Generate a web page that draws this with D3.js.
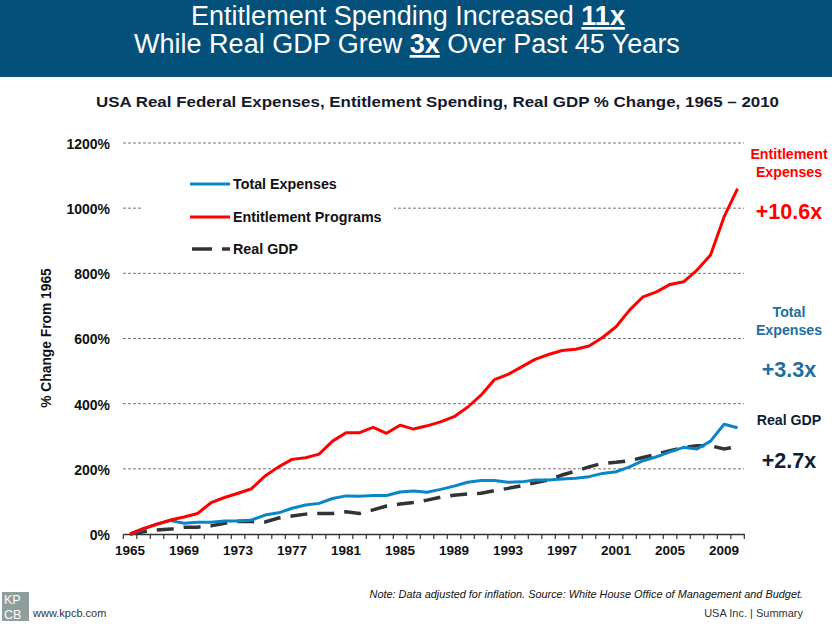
<!DOCTYPE html>
<html><head><meta charset="utf-8">
<script src="https://cdn.jsdelivr.net/npm/d3@7"></script>
<style>
html,body{margin:0;padding:0;background:#fff;}
svg{display:block;font-family:"Liberation Sans",Arial,sans-serif;}
</style></head>
<body>
<svg id="c" width="832" height="624"></svg>
<script>
const years = d3.range(1965, 2011);
const totalExpenses = [0,15,31,41,33,36,36,40,40,43,58,65,79,89,94,109,117,116,118,118,129,132,128,137,147,159,164,164,159,160,166,166,169,171,176,186,191,206,225,237,252,266,261,285,337,326];
const entitlementPrograms = [0,17,30,43,52,63,96,112,125,139,178,206,229,234,245,285,311,311,327,309,334,322,332,344,360,389,426,474,490,513,536,551,563,567,577,603,636,687,728,743,766,774,810,856,973,1060];
const realGDP = [0,7,12,15,21,21,25,33,39,38,37,49,55,61,63,63,68,63,74,86,92,97,104,113,119,123,125,133,140,148,157,166,181,193,206,217,220,225,235,245,256,265,271,271,261,268];
const yTicks = [0,200,400,600,800,1000,1200];
const xTickLabels = [1965,1969,1973,1977,1981,1985,1989,1993,1997,2001,2005,2009];
const seriesNames = ["Total Expenses","Entitlement Programs","Real GDP"];

const svg = d3.select("#c");

// header band
svg.append("rect").attr("x",0).attr("y",0).attr("width",832).attr("height",77).attr("fill","#03517A");
const tf = '"Liberation Sans Narrow","Arial Narrow","Liberation Sans",sans-serif';
const t1 = svg.append("text").attr("x",408).attr("y",25).attr("text-anchor","middle")
  .attr("fill","#fff").style("font-family",tf).style("font-size","27px");
t1.append("tspan").text("Entitlement Spending Increased ");
t1.append("tspan").text("11x").style("font-weight","bold").style("text-decoration","underline");
const t2 = svg.append("text").attr("x",407).attr("y",53).attr("text-anchor","middle")
  .attr("fill","#fff").style("font-family",tf).style("font-size","27px");
t2.append("tspan").text("While Real GDP Grew ");
t2.append("tspan").text("3x").style("font-weight","bold").style("text-decoration","underline");
t2.append("tspan").text(" Over Past 45 Years");

svg.append("text").attr("x",96).attr("y",107)
  .attr("textLength",683).attr("lengthAdjust","spacingAndGlyphs")
  .style("font-size","15.5px").style("font-weight","bold").attr("fill","#141A2C")
  .text("USA Real Federal Expenses, Entitlement Spending, Real GDP % Change, 1965 \u2013 2010");

// scales
const x = d3.scaleBand().domain(years).range([123.3,744.3]).padding(0);
const y = d3.scaleLinear().domain([0,1200]).range([534,143]);
const cx = d => x(d) + x.bandwidth()/2;

// gridlines
svg.append("g").selectAll("line").data(yTicks.filter(d=>d>0)).join("line")
  .attr("x1",123).attr("x2",744).attr("y1",d=>y(d)).attr("y2",d=>y(d))
  .attr("stroke","#777").attr("stroke-width",1).attr("stroke-dasharray","3,2");

// y axis labels
const yAxis = d3.axisLeft(y).tickValues(yTicks).tickSize(0).tickPadding(0).tickFormat(d=>d+"%");
const gy = svg.append("g").attr("transform","translate(110,1)").call(yAxis);
gy.select(".domain").remove();
gy.selectAll("text").style("font-size","14px").style("font-weight","bold").attr("fill","#111")
  .style("font-family",'"Liberation Sans",Arial,sans-serif');

svg.append("text").attr("transform","translate(51,338) rotate(-90)").attr("text-anchor","middle")
  .style("font-size","13.8px").style("font-weight","bold").attr("fill","#111").text("% Change From 1965");

// x axis
const xAxis = d3.axisBottom(x).tickValues(xTickLabels).tickSize(0).tickPadding(11);
const gx = svg.append("g").attr("transform","translate(0,534)").call(xAxis);
gx.select(".domain").attr("stroke","#333").attr("stroke-width",1.5);
gx.selectAll("text").style("font-size","13.5px").style("font-weight","bold").attr("fill","#111")
  .style("font-family",'"Liberation Sans",Arial,sans-serif');
const boundaries = years.map(d=>x(d)).concat([x(2010)+x.bandwidth()]);
svg.append("g").selectAll("line").data(boundaries).join("line")
  .attr("x1",d=>d).attr("x2",d=>d).attr("y1",534).attr("y2",539)
  .attr("stroke","#333").attr("stroke-width",1.2);

// lines
const line = d3.line().x((d,i)=>cx(years[i])).y(d=>y(d));
svg.append("path").datum(realGDP).attr("d",line).attr("fill","none")
  .attr("stroke","#333").attr("stroke-width",3.5).attr("stroke-dasharray","17,10");
svg.append("path").datum(totalExpenses).attr("d",line).attr("fill","none")
  .attr("stroke","#0A86C8").attr("stroke-width",3).attr("stroke-linejoin","round");
svg.append("path").datum(entitlementPrograms).attr("d",line).attr("fill","none")
  .attr("stroke","#FF0000").attr("stroke-width",3).attr("stroke-linejoin","round");

// legend
svg.append("rect").attr("x",142).attr("y",165).attr("width",252).attr("height",98).attr("fill","#fff");
const leg = [
  {name:seriesNames[0], color:"#0A86C8", dash:null, y:184},
  {name:seriesNames[1], color:"#FF0000", dash:null, y:217},
  {name:seriesNames[2], color:"#333", dash:"20,10", y:249}
];
const lg = svg.append("g").selectAll("g").data(leg).join("g");
lg.append("line").attr("x1",d=>d.dash?192:190).attr("x2",230).attr("y1",d=>d.y).attr("y2",d=>d.y)
  .attr("stroke",d=>d.color).attr("stroke-width",d=>d.dash?3.5:3).attr("stroke-dasharray",d=>d.dash);
lg.append("text").attr("x",233).attr("y",d=>d.y+5).text(d=>d.name)
  .style("font-size","14.3px").style("font-weight","bold").attr("fill","#111");

// right annotations
const ann = [
  {t:"Entitlement", y:159, s:14.2, c:"#FF0000"},
  {t:"Expenses", y:177, s:14.2, c:"#FF0000"},
  {t:"+10.6x", y:219, s:21.5, c:"#FF0000"},
  {t:"Total", y:317, s:14.2, c:"#1F6E9E"},
  {t:"Expenses", y:335, s:14.2, c:"#1F6E9E"},
  {t:"+3.3x", y:377, s:21.5, c:"#1F6E9E"},
  {t:"Real GDP", y:425, s:14.2, c:"#0E1E36"},
  {t:"+2.7x", y:468, s:21.5, c:"#0E1E36"}
];
svg.append("g").selectAll("text").data(ann).join("text")
  .attr("x",789).attr("y",d=>d.y).attr("text-anchor","middle").text(d=>d.t)
  .style("font-size",d=>d.s+"px").style("font-weight","bold").attr("fill",d=>d.c);

// footer
svg.append("text").attr("x",803).attr("y",598).attr("text-anchor","end")
  .style("font-size","10.9px").style("font-style","italic").attr("fill","#111")
  .text("Note: Data adjusted for inflation. Source: White House Office of Management and Budget.");
svg.append("text").attr("x",803).attr("y",617).attr("text-anchor","end")
  .style("font-size","11px").attr("fill","#333").text("USA Inc. | Summary");
svg.append("text").attr("x",33).attr("y",617)
  .style("font-size","11px").attr("fill","#333").text("www.kpcb.com");
const logo = svg.append("g");
logo.append("rect").attr("x",2).attr("y",592).attr("width",27).attr("height",29).attr("fill","#8E9E9C");
logo.append("text").attr("x",4).attr("y",604).text("KP").style("font-size","12.5px").attr("fill","#fff");
logo.append("text").attr("x",4).attr("y",619).text("CB").style("font-size","12.5px").attr("fill","#fff");
</script>
</body></html>
